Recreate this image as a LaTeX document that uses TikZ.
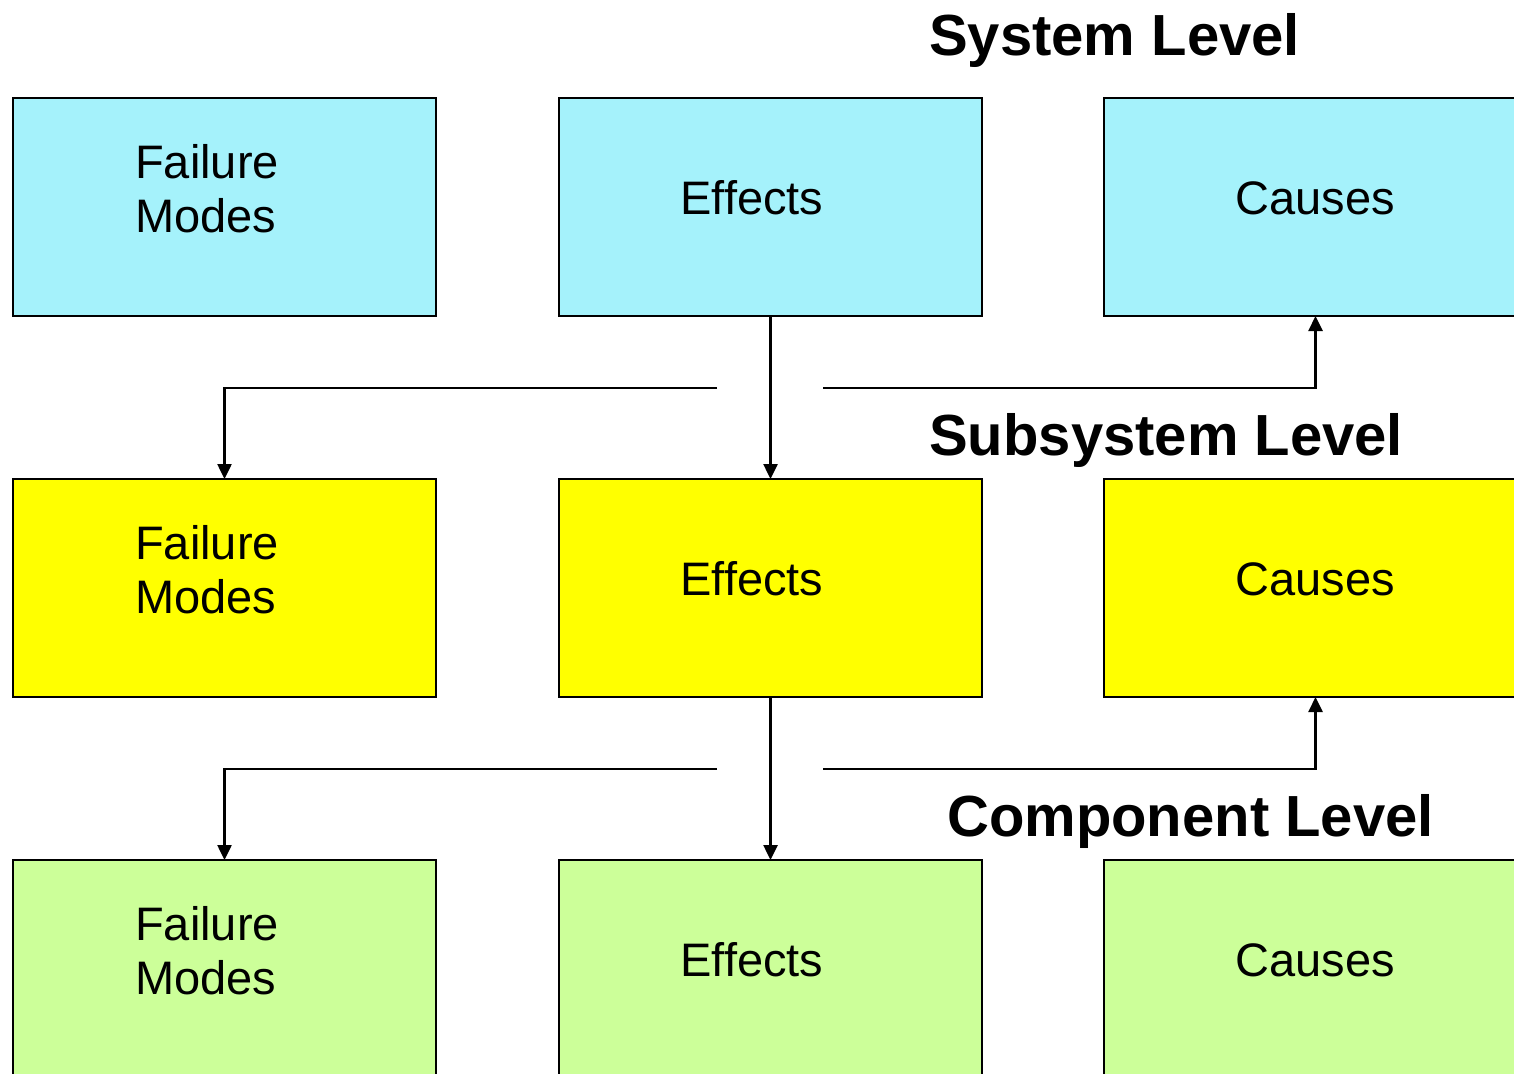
\documentclass[tikz,border=0pt]{standalone}
\usepackage{fontspec}
\setmainfont{Liberation Sans}
\usetikzlibrary{arrows.meta}
\definecolor{sysc}{RGB}{165,242,251}
\definecolor{subc}{RGB}{255,255,0}
\definecolor{comc}{RGB}{204,255,153}
\begin{document}
\begin{tikzpicture}[x=1pt,y=-1pt,
  box/.style={draw=black,line width=2pt,minimum width=423pt,minimum height=218pt,inner sep=0pt,outer sep=0pt,anchor=north west},
  txt/.style={font=\fontsize{47}{54}\selectfont,inner sep=0pt,anchor=base},
  ltxt/.style={font=\fontsize{47}{54}\selectfont,inner sep=0pt,anchor=base west},
  lvl/.style={font=\fontsize{58}{66}\selectfont\bfseries,inner sep=0pt,anchor=base west},
  conn/.style={line width=2.5pt},
  arr/.style={line width=2.5pt,-{Triangle[length=15pt,width=14pt]}}]
\useasboundingbox (0,0) rectangle (1514,1073);
\clip (0,0) rectangle (1514,1073);
\fill[white] (0,0) rectangle (1514,1073);
% level labels
\node[lvl] (lsys) at (929,56) {System Level};
\node[lvl] (lsub) at (929,455) {Subsystem Level};
\node[lvl] (lcom) at (947,836) {Component Level};
% boxes
\foreach \r/\y/\c in {1/98/sysc,2/479/subc,3/860/comc}{
  \node[box,fill=\c] (F\r) at (13,\y) {};
  \node[box,fill=\c] (E\r) at (559,\y) {};
  \node[box,fill=\c] (C\r) at (1104,\y) {};
}
% texts
\foreach \r/\y in {1/0,2/381,3/762}{
  \node[ltxt] (tf\r) at (135,178+\y) {Failure};
  \node[ltxt] (tm\r) at (135,232+\y) {Modes};
  \node[txt] (te\r) at (752,214+\y) {Effects};
  \node[txt] (tc\r) at (1315,214+\y) {Causes};
}
% connectors
\coordinate (a1) at (717,388);
\coordinate (b1) at (823,388);
\coordinate (a2) at (717,769);
\coordinate (b2) at (823,769);
\draw[arr] (E1.south) -- (E2.north);
\draw[arr] (a1) -| (F2.north);
\draw[arr] (b1) -| (C1.south);
\draw[arr] (E2.south) -- (E3.north);
\draw[arr] (a2) -| (F3.north);
\draw[arr] (b2) -| (C2.south);
\end{tikzpicture}
\end{document}
